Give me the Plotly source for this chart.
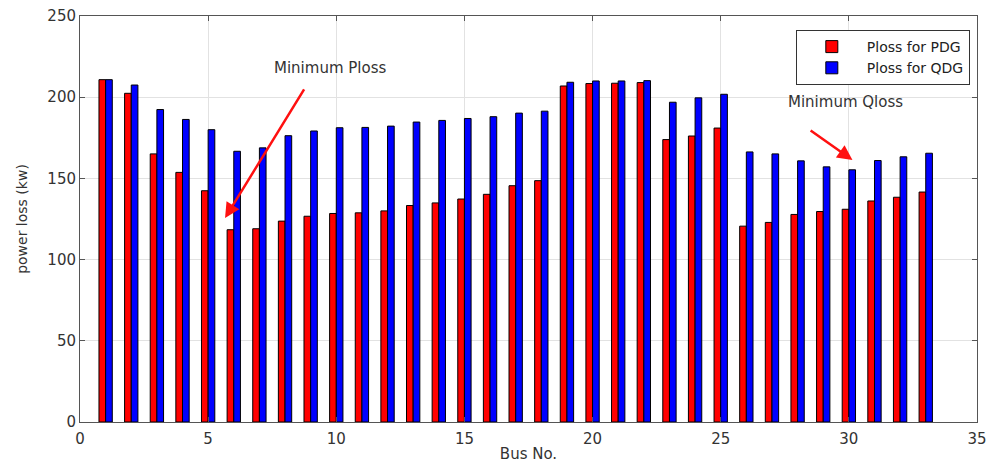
import plotly.graph_objects as go

bus = list(range(1, 34))
ploss_pdg = [210.8, 202.4, 165.1, 153.7, 142.4, 118.4, 119.0, 123.7, 126.7, 128.4, 128.8,
             130.0, 133.3, 134.9, 137.3, 140.2, 145.5, 148.6, 206.9, 208.4, 208.6, 209.0,
             173.9, 176.1, 181.0, 120.6, 122.9, 127.8, 129.6, 131.0, 136.1, 138.4, 141.6]
ploss_qdg = [210.8, 207.5, 192.4, 186.3, 180.0, 166.7, 168.8, 176.3, 179.2, 181.2, 181.4,
             182.2, 184.7, 185.7, 186.9, 188.0, 190.2, 191.4, 209.2, 210.0, 210.0, 210.2,
             196.9, 199.6, 201.8, 166.3, 165.1, 160.8, 157.1, 155.3, 161.0, 163.3, 165.5]
x_ticks = [0, 5, 10, 15, 20, 25, 30, 35]
y_ticks = [0, 50, 100, 150, 200, 250]

font_family = "DejaVu Sans, Verdana, sans-serif"
text_color = "#333333"

fig = go.Figure()
fig.add_trace(go.Bar(x=bus, y=ploss_pdg, name="Ploss for PDG",
                     marker=dict(color="#ff0000", line=dict(color="#000000", width=1))))
fig.add_trace(go.Bar(x=bus, y=ploss_qdg, name="Ploss for QDG",
                     marker=dict(color="#0000ff", line=dict(color="#000000", width=1))))

axis_common = dict(
    showline=True, linecolor="#555555", linewidth=1, mirror="ticks",
    ticks="inside", ticklen=5, tickcolor="#555555",
    showgrid=True, gridcolor="#e2e2e2", gridwidth=1, zeroline=False,
    tickfont=dict(family=font_family, size=15, color=text_color),
    automargin=False,
)

fig.update_layout(
    width=997, height=463,
    margin=dict(l=80, r=20, t=16, b=41),
    paper_bgcolor="white", plot_bgcolor="white",
    barmode="group", bargap=0.48, bargroupgap=0.0,
    font=dict(family=font_family, color=text_color),
    xaxis=dict(range=[0, 35], tickvals=x_ticks, ticklabelstandoff=3,
               title=dict(text="Bus No.", font=dict(family=font_family, size=15, color=text_color), standoff=4),
               **axis_common),
    yaxis=dict(range=[0, 250], tickvals=y_ticks,
               title=dict(text="power loss (kw)", font=dict(family=font_family, size=14, color=text_color), standoff=16),
               **axis_common),
    legend=dict(x=0.992, y=0.9655, xanchor="right", yanchor="top",
                bgcolor="white", bordercolor="#333333", borderwidth=1,
                font=dict(family=font_family, size=14, color="#222222"),
                tracegroupgap=0, itemwidth=60),
    showlegend=True,
)

fig.add_annotation(x=5.66, y=125.6, ax=8.78, ay=205.7, xref="x", yref="y", axref="x", ayref="y",
                   showarrow=True, arrowhead=2, arrowsize=1.2, arrowwidth=2.5, arrowcolor="#ff1010", text="")
fig.add_annotation(x=9.75, y=218, xref="x", yref="y", text="Minimum Ploss", showarrow=False,
                   font=dict(family=font_family, size=15, color=text_color))
fig.add_annotation(x=30.14, y=161.3, ax=28.45, ay=180.2, xref="x", yref="y", axref="x", ayref="y",
                   showarrow=True, arrowhead=2, arrowsize=1.2, arrowwidth=2.5, arrowcolor="#ff1010", text="")
fig.add_annotation(x=29.85, y=197, xref="x", yref="y", text="Minimum Qloss", showarrow=False,
                   font=dict(family=font_family, size=15, color=text_color))

fig.write_html("out.html")
